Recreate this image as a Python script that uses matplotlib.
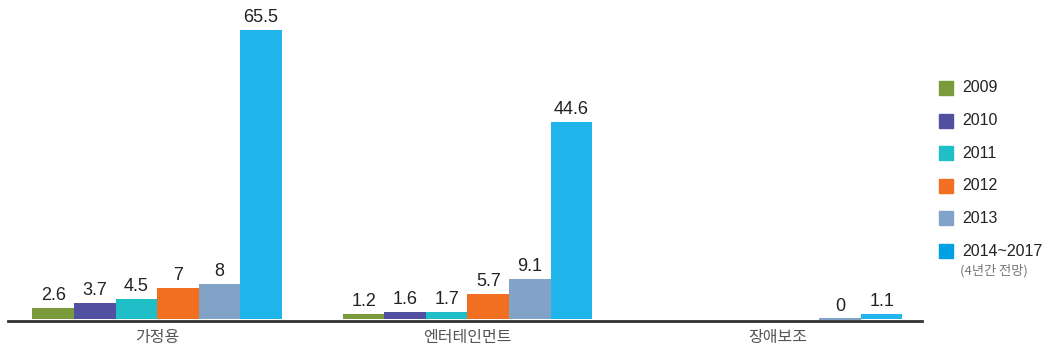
import numpy as np
import matplotlib.pyplot as plt
from matplotlib.patches import Rectangle

# data
categories = ['가정용', '엔터테인먼트', '장애보조']
years = ['2009', '2010', '2011', '2012', '2013', '2014~2017']
values = {
    '2009': [2.6, 1.2, None],
    '2010': [3.7, 1.6, None],
    '2011': [4.5, 1.7, None],
    '2012': [7, 5.7, None],
    '2013': [8, 9.1, 0],
    '2014~2017': [65.5, 44.6, 1.1],
}
colors = ['#7a9a3c', '#5150a0', '#20bec6', '#f26f21', '#82a3c8', '#20b5ea']
legend_colors = ['#7a9a3c', '#5150a0', '#20bec6', '#f26f21', '#82a3c8', '#00a0e3']

num_font = ['Liberation Sans Narrow', 'Liberation Sans', 'DejaVu Sans']
kr_font = ['Noto Sans CJK KR', 'DejaVu Sans']

fig = plt.figure(figsize=(10.44, 3.52), dpi=100)
ax = fig.add_axes([8 / 1044, 31 / 352, 914 / 1044, 321 / 352])

x = np.arange(len(categories))
w = 0.1337
for i, yr in enumerate(years):
    for j, v in enumerate(values[yr]):
        if v is None:
            continue
        xpos = x[j] - 2.5 * w + i * w
        # zero-height bar still gets a thin line
        ax.bar(xpos, v, width=w, color=colors[i], edgecolor=colors[i],
               linewidth=1.5 if v == 0 else 0)
        label = f'{v:g}'
        ax.annotate(label, (xpos, v), xytext=(0, 3), textcoords='offset points',
                    ha='center', va='bottom', fontsize=13, color='#222222',
                    family=num_font)

ax.set_xlim(-0.48, 2.464)
ax.set_ylim(-0.4, 72.3)
for s in ['top', 'right', 'left']:
    ax.spines[s].set_visible(False)
ax.spines['bottom'].set_linewidth(2)
ax.spines['bottom'].set_color('#333333')
ax.set_yticks([])
ax.set_xticks(x)
ax.set_xticklabels(categories, family=kr_font, fontsize=11.5, color='#555555')
ax.tick_params(axis='x', length=0, pad=6)

# legend drawn by hand
W, H = 1044, 352
for i, yr in enumerate(years):
    yc = 88 + i * 32.6
    fig.patches.append(Rectangle((939 / W, 1 - (yc + 7) / H), 14 / W, 14 / H,
                                 transform=fig.transFigure, color=legend_colors[i]))
    fig.text(962 / W, 1 - yc / H, yr, ha='left', va='center', fontsize=11.5,
             color='#222222', family=num_font)
fig.text(960 / W, 1 - 271 / H, '(4년간 전망)', ha='left', va='center', fontsize=9.5,
         color='#777777', family=kr_font)

fig.savefig('out.png', dpi=100)
